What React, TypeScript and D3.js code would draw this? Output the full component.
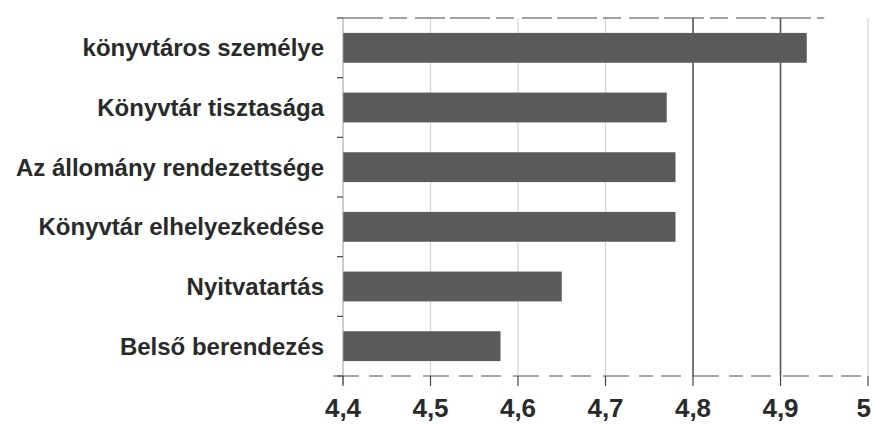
import { useEffect, useRef } from 'react'
import * as d3 from 'd3'

const categories = [
  'könyvtáros személye',
  'Könyvtár tisztasága',
  'Az állomány rendezettsége',
  'Könyvtár elhelyezkedése',
  'Nyitvatartás',
  'Belső berendezés',
]
const values = [4.93, 4.77, 4.78, 4.78, 4.65, 4.58]
const ticks = [4.4, 4.5, 4.6, 4.7, 4.8, 4.9, 5]

const W = 872
const H = 425

export default function App() {
  const svgRef = useRef<SVGSVGElement>(null)

  useEffect(() => {
    if (!svgRef.current) return
    const svg = d3.select(svgRef.current)
    svg.selectAll('*').remove()

    const left = 343
    const right = 868
    const top = 18
    const bottom = 376

    const x = d3.scaleLinear().domain([4.4, 5]).range([left, right])
    const y = d3.scaleBand<string>().domain(categories).range([top, bottom]).paddingInner(0.5).paddingOuter(0.25)

    svg.append('rect').attr('width', W).attr('height', H).attr('fill', '#ffffff')

    // vertical gridlines
    svg.selectAll('.grid')
      .data(ticks.slice(1))
      .enter()
      .append('line')
      .attr('x1', d => x(d))
      .attr('x2', d => x(d))
      .attr('y1', top)
      .attr('y2', bottom)
      .attr('stroke', d => (d >= 4.8 && d < 5 ? '#555' : '#d4d4d4'))
      .attr('stroke-width', d => (d >= 4.8 && d < 5 ? 1.6 : 1.2))

    // top border
    svg.append('line')
      .attr('x1', left).attr('x2', x(4.95))
      .attr('y1', top).attr('y2', top)
      .attr('stroke', '#444').attr('stroke-width', 1.2)
      .attr('stroke-dasharray', '40 6 18 8 30 5')

    // bars
    svg.selectAll('.bar')
      .data(values)
      .enter()
      .append('rect')
      .attr('x', x(4.4))
      .attr('y', (_, i) => y(categories[i])!)
      .attr('width', d => x(d) - x(4.4))
      .attr('height', y.bandwidth())
      .attr('fill', '#5b5b5b')

    // left axis
    svg.append('line')
      .attr('x1', left).attr('x2', left)
      .attr('y1', top).attr('y2', bottom + 8)
      .attr('stroke', '#999').attr('stroke-width', 1)
    svg.selectAll('.ytick')
      .data(d3.range(categories.length + 1))
      .enter()
      .append('line')
      .attr('x1', left - 6).attr('x2', left)
      .attr('y1', i => top + i * (bottom - top) / categories.length)
      .attr('y2', i => top + i * (bottom - top) / categories.length)
      .attr('stroke', '#444').attr('stroke-width', 1.2)

    // bottom axis
    svg.append('line')
      .attr('x1', left - 10).attr('x2', right)
      .attr('y1', bottom).attr('y2', bottom)
      .attr('stroke', '#555').attr('stroke-width', 1.2)
      .attr('stroke-dasharray', '26 10 14 8 20 12')
    svg.selectAll('.xtick')
      .data(ticks)
      .enter()
      .append('line')
      .attr('x1', d => x(d)).attr('x2', d => x(d))
      .attr('y1', bottom).attr('y2', bottom + 10)
      .attr('stroke', '#444').attr('stroke-width', 1.2)

    svg.selectAll('.xlabel')
      .data(ticks)
      .enter()
      .append('text')
      .attr('x', d => (d === 5 ? W - 1 : x(d)))
      .attr('y', 417)
      .attr('text-anchor', d => (d === 5 ? 'end' : 'middle'))
      .attr('font-family', 'Liberation Sans, Arial, sans-serif')
      .attr('font-weight', 'bold')
      .attr('font-size', 26)
      .attr('fill', '#2a2a2a')
      .text(d => d3.format('.1~f')(d).replace('.', ','))

    svg.selectAll('.ylabel')
      .data(categories)
      .enter()
      .append('text')
      .attr('x', 324)
      .attr('y', d => y(d)! + y.bandwidth() / 2)
      .attr('dy', '0.36em')
      .attr('text-anchor', 'end')
      .attr('font-family', 'Liberation Sans, Arial, sans-serif')
      .attr('font-weight', 'bold')
      .attr('font-size', 24)
      .attr('fill', '#2a2a2a')
      .text(d => d)
  }, [])

  return (
    <svg ref={svgRef} width={W} height={H} style={{ display: 'block', position: 'absolute', left: 0, top: 0 }} />
  )
}
